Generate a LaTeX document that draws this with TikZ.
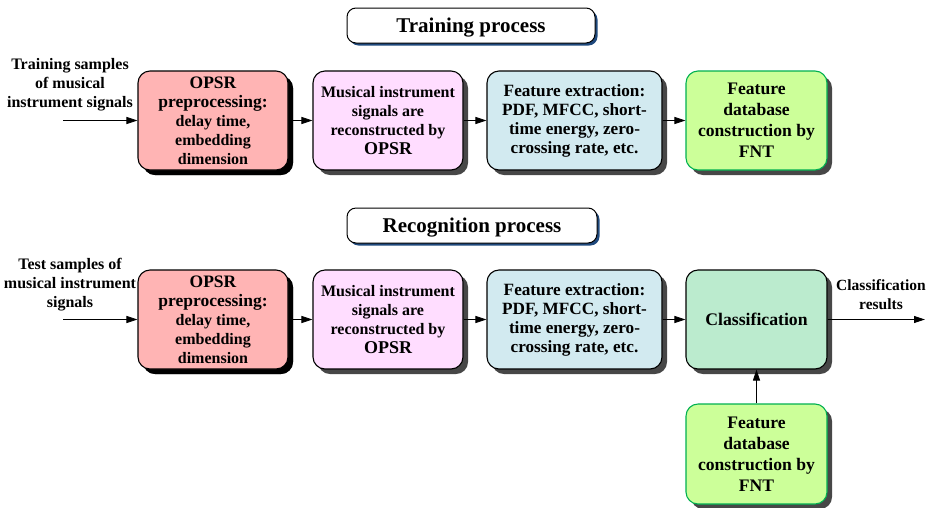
\documentclass[tikz,border=0pt]{standalone}
\usepackage{fontspec}
\setmainfont{Liberation Serif}
\usepackage{tikz}
\usetikzlibrary{arrows.meta, positioning, shadows}
\usepackage{xcolor}
\definecolor{opsrred}{RGB}{255,180,180}
\definecolor{recpink}{RGB}{255,221,255}
\definecolor{featblue}{RGB}{210,234,240}
\definecolor{dblime}{RGB}{204,255,153}
\definecolor{dbgreen}{RGB}{0,176,80}
\definecolor{classgreen}{RGB}{187,235,206}
\definecolor{titleshadow}{RGB}{31,73,125}

\begin{document}
\begin{tikzpicture}[x=1pt, y=-1pt,
  box/.style={rectangle, rounded corners=12pt, draw=black, line width=1.1pt, align=center,
    minimum height=99pt, inner sep=2pt, font=\bfseries\fontsize{16}{19}\selectfont,
    drop shadow={shadow xshift=5pt, shadow yshift=-5pt, fill=black!72, opacity=1}},
  titlebox/.style={rectangle, rounded corners=9pt, draw=black, line width=1pt, fill=white,
    minimum height=35pt, text depth=0pt, font=\bfseries\fontsize{21}{24}\selectfont,
    drop shadow={shadow xshift=2.5pt, shadow yshift=-2.5pt, fill=titleshadow, opacity=1}},
  lbl/.style={align=center, font=\bfseries\fontsize{16}{19}\selectfont},
  link/.style={-{Triangle[length=11pt,width=7pt]}, line width=0.8pt}]
  \useasboundingbox (0,0) rectangle (931,507);

  % Training process
  \node[titlebox, minimum width=248pt] (traintitle) at (471,25.5) {Training process};
  \node[lbl] (trainlbl) at (70,85) {Training samples\\of musical\\instrument signals};
  \coordinate (trainin) at (63,120.5);
  \node[box, fill=opsrred, minimum width=150pt, drop shadow={shadow xshift=5pt, shadow yshift=-5pt, fill=black, opacity=1}] (trainpre) at (213,120.5)
    {\fontsize{17.5}{20}\selectfont OPSR\\\fontsize{17.5}{20}\selectfont preprocessing:\\\fontsize{16}{19}\selectfont delay time,\\embedding\\dimension};
  \node[box, fill=recpink, minimum width=150pt] (trainrec) at (388,120.5)
    {Musical instrument\\signals are\\reconstructed by\\\fontsize{18}{19}\selectfont OPSR};
  \node[box, fill=featblue, minimum width=175pt, font=\bfseries\fontsize{17.2}{19}\selectfont] (trainfeat) at (574.5,120.5)
    {Feature extraction:\\PDF, MFCC, short-\\time energy, zero-\\crossing rate, etc.};
  \node[box, fill=dblime, draw=dbgreen, minimum width=141pt, font=\bfseries\fontsize{17.6}{21}\selectfont] (traindb) at (756.5,120.5)
    {Feature\\database\\construction by\\FNT};
  \draw[link] (trainin) -- (trainpre);
  \draw[link] (trainpre) -- (trainrec);
  \draw[link] (trainrec) -- (trainfeat);
  \draw[link] (trainfeat) -- (traindb);

  % Recognition process
  \node[titlebox, minimum width=250pt] (testtitle) at (472,225.5) {Recognition process};
  \node[lbl] (testlbl) at (70,285) {Test samples of\\musical instrument\\signals};
  \coordinate (testin) at (63,319.5);
  \node[box, fill=opsrred, minimum width=150pt, drop shadow={shadow xshift=5pt, shadow yshift=-5pt, fill=black, opacity=1}] (testpre) at (213,319.5)
    {\fontsize{17.5}{20}\selectfont OPSR\\\fontsize{17.5}{20}\selectfont preprocessing:\\\fontsize{16}{19}\selectfont delay time,\\embedding\\dimension};
  \node[box, fill=recpink, minimum width=150pt] (testrec) at (388,319.5)
    {Musical instrument\\signals are\\reconstructed by\\\fontsize{18}{19}\selectfont OPSR};
  \node[box, fill=featblue, minimum width=175pt, font=\bfseries\fontsize{17.2}{19}\selectfont] (testfeat) at (574.5,319.5)
    {Feature extraction:\\PDF, MFCC, short-\\time energy, zero-\\crossing rate, etc.};
  \node[box, fill=classgreen, minimum width=141pt, font=\bfseries\fontsize{17.7}{20}\selectfont] (classify) at (756.5,319.5)
    {Classification};
  \node[box, fill=dblime, draw=dbgreen, minimum width=141pt, minimum height=100pt, font=\bfseries\fontsize{17.6}{21}\selectfont] (testdb) at (756.5,454)
    {Feature\\database\\construction by\\FNT};
  \node[lbl, font=\bfseries\fontsize{15.5}{19}\selectfont] (resultlbl) at (881,294.5) {Classification\\results};
  \coordinate (testout) at (925,319.5);
  \draw[link] (testin) -- (testpre);
  \draw[link] (testpre) -- (testrec);
  \draw[link] (testrec) -- (testfeat);
  \draw[link] (testfeat) -- (classify);
  \draw[link] (classify) -- (testout);
  \draw[link] (testdb) -- (classify);
\end{tikzpicture}
\end{document}
